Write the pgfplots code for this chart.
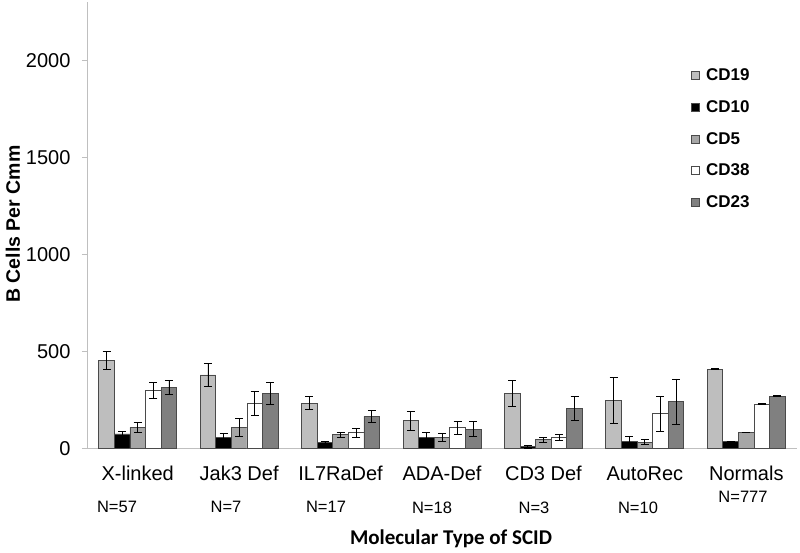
\documentclass[border=0pt]{standalone}
\usepackage{pgfplots}
\pgfplotsset{compat=1.18}
\usepackage{fontspec}
\setmainfont{Liberation Sans}
\newfontfamily\calibri{Carlito}
\definecolor{cdA}{HTML}{BEBEBE}
\definecolor{cdB}{HTML}{000000}
\definecolor{cdC}{HTML}{A6A6A6}
\definecolor{cdD}{HTML}{FFFFFF}
\definecolor{cdE}{HTML}{808080}
\definecolor{edge}{HTML}{4A4A4A}
\definecolor{axgray}{HTML}{BFBFBF}
\pgfplotstableread{
x  y    e
0  455  46
1  380  60
2  234  34
3  144  49
4  285  67
5  249  117
6  409  3
}\tCDnineteen
\pgfplotstableread{
x  y    e
0  76   15
1  59   20
2  33   7
3  57   25
4  10   7
5  38   26
6  38   0
}\tCDten
\pgfplotstableread{
x  y    e
0  110  25
1  110  45
2  72   12
3  59   20
4  46   13
5  33   13
6  86   0
}\tCDfive
\pgfplotstableread{
x  y    e
0  301  40
1  234  62
2  82   23
3  108  33
4  59   15
5  180  90
6  229  3
}\tCDthirtyeight
\pgfplotstableread{
x  y    e
0  316  36
1  285  57
2  167  31
3  101  40
4  206  62
5  242  117
6  271  3
}\tCDtwentythree
\begin{document}
\begin{tikzpicture}[x=1pt,y=1pt]
\useasboundingbox (0,0) rectangle (800,-552);
\begin{axis}[
  at={(87pt,-448.7pt)}, anchor=south west,
  scale only axis, width=710pt, height=446.7pt,
  xmin=-0.5, xmax=6.5, ymin=0, ymax=2300,
  axis lines*=left,
  axis line style={draw=axgray, line width=1pt},
  ybar=0pt, bar width=15.6pt,
  clip=false,
  xtick={0,...,6},
  xticklabels={X-linked, Jak3 Def, IL7RaDef, ADA-Def, CD3 Def, AutoRec, Normals},
  x tick label style={font=\fontsize{20}{22}\selectfont, yshift=-9pt},
  major x tick style={draw=none},
  extra x ticks={-0.5,0.5,1.5,2.5,3.5,4.5,5.5,6.5},
  extra x tick labels={},
  extra x tick style={major tick length=6pt, tick align=outside, major tick style={draw=axgray, line width=1pt}},
  ytick={0,500,1000,1500,2000},
  y tick label style={font=\fontsize{20}{22}\selectfont},
  /pgf/number format/assume math mode=true,
  /pgf/number format/1000 sep={},
  ytick style={draw=axgray, line width=1pt},
  major tick length=5pt, tick align=outside,
  yticklabel style={xshift=-8pt},
  every axis plot/.append style={draw=edge, line width=0.8pt},
  error bars/error bar style={black, line width=0.8pt},
  error bars/error mark options={rotate=90, black, mark size=4pt, line width=0.8pt},
  legend style={at={(0.846,0.857)}, anchor=north west, draw=none, fill=none,
    font=\fontsize{17}{19}\selectfont\bfseries, row sep=16.2pt,
    nodes={inner sep=1pt}},
  legend cell align=left,
  legend image code/.code={\draw[#1, line width=0.6pt, draw=edge] (0pt,-4pt) rectangle (8pt,4pt);
    \path[draw=none, fill=none] (14pt,0pt) circle (0.01pt);},
]
\addplot[fill=cdA, error bars/.cd, y dir=both, y explicit] table[x=x, y=y, y error=e] {\tCDnineteen};
\addplot[fill=cdB, error bars/.cd, y dir=both, y explicit] table[x=x, y=y, y error=e] {\tCDten};
\addplot[fill=cdC, error bars/.cd, y dir=both, y explicit] table[x=x, y=y, y error=e] {\tCDfive};
\addplot[fill=cdD, error bars/.cd, y dir=both, y explicit] table[x=x, y=y, y error=e] {\tCDthirtyeight};
\addplot[fill=cdE, error bars/.cd, y dir=both, y explicit] table[x=x, y=y, y error=e] {\tCDtwentythree};
\legend{CD19, CD10, CD5, CD38, CD23}
\end{axis}
\begin{scope}[every node/.style={font=\fontsize{16.5}{18}\selectfont}]
\node at (117,-507) {N=57};
\node at (226,-507) {N=7};
\node at (326,-507) {N=17};
\node at (432,-508) {N=18};
\node at (534,-508) {N=3};
\node at (638,-508) {N=10};
\node at (743,-497) {N=777};
\end{scope}
\node[font=\calibri\fontsize{21}{24}\selectfont\bfseries] at (451,-539) {Molecular Type of SCID};
\node[rotate=90, font=\fontsize{19.5}{22}\selectfont\bfseries] at (13,-224) {B Cells Per Cmm};
\end{tikzpicture}
\end{document}
